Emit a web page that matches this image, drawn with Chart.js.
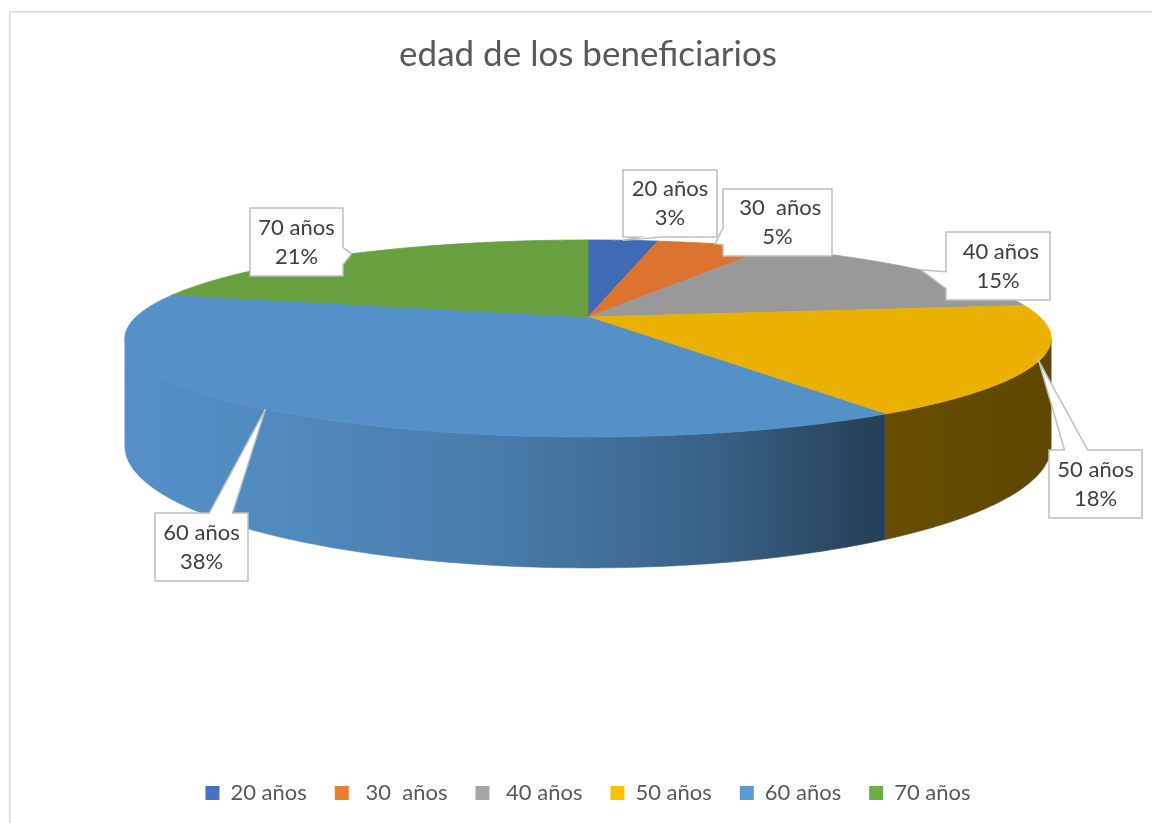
<!DOCTYPE html>
<html>
<head>
<meta charset="utf-8">
<script src="https://cdn.jsdelivr.net/npm/chart.js@4.4.0/dist/chart.umd.min.js"></script>
<style>
  html, body { margin: 0; padding: 0; background: #ffffff; }
  #wrap { position: relative; width: 1152px; height: 823px; }
</style>
</head>
<body>
<div id="wrap"><canvas id="chart"></canvas></div>
<script>
// ---------------- data ----------------
const chartTitle = 'edad de los beneficiarios';
const categories = ['20 años', ' 30  años', ' 40 años', '50 años', '60 años', '70 años'];
const shares = [3, 5, 15, 18, 38, 21];

// ---------------- styles ----------------
const legendColors = ['#4472C4', '#ED7D31', '#A5A5A5', '#FFC000', '#5B9BD5', '#70AD47'];
const faceColors   = ['#3E6AB6', '#DC7430', '#999999', '#EBB100', '#5491C8', '#68A040'];
const FONT = 'Lato, "Open Sans", "Noto Sans", sans-serif';

// 3D view (ratios relative to the pie radius computed by Chart.js)
const VIEW = { stretchX: 1.8755, stretchY: 0.3892, depth: 0.4250, perspective: 0.218 };
// side-wall lighting: [position across pie width, brightness factor]
const WALL_SHADE = [[0, 1.0], [0.2, 0.94], [0.42, 0.84], [0.63, 0.68], [0.81, 0.44], [1, 0.40]];
// callout boxes (layout only)
const CALLOUT_BOXES = [
  { x: 623, y: 170, w: 94, h: 67 },
  { x: 723, y: 189, w: 109, h: 67 },
  { x: 946, y: 232, w: 104, h: 68 },
  { x: 1049, y: 450, w: 93, h: 68 },
  { x: 155, y: 513, w: 93, h: 68 },
  { x: 250, y: 208, w: 93, h: 68 }
];

// ---------------- 3D helpers ----------------
function project(cx, cy, r, ang, drop) {
  const s = Math.sin(ang), c = Math.cos(ang);
  const den = 1 - VIEW.perspective * s;
  return { x: cx + r * VIEW.stretchX * c / den, y: cy + (r * VIEW.stretchY * s + drop) / den };
}
function hexToRgb(h) {
  const v = parseInt(h.replace('#', ''), 16);
  return [(v >> 16) & 255, (v >> 8) & 255, v & 255];
}
function shade(rgb, f) {
  return 'rgb(' + rgb.map(c => Math.round(Math.min(255, c * f))).join(',') + ')';
}

function drawWalls(ctx, arcs) {
  const vis0 = Math.asin(VIEW.perspective), vis1 = Math.PI - vis0;
  arcs.forEach(el => {
    const p = el.getProps(['x', 'y', 'startAngle', 'endAngle', 'outerRadius']);
    const color = el.options.backgroundColor;
    const rgb = hexToRgb(color);
    const half = p.outerRadius * VIEW.stretchX / Math.sqrt(1 - VIEW.perspective * VIEW.perspective);
    const drop = p.outerRadius * VIEW.depth;
    [-2 * Math.PI, 0, 2 * Math.PI].forEach(shift => {
      const a0 = Math.max(p.startAngle + shift, vis0);
      const a1 = Math.min(p.endAngle + shift, vis1);
      if (a1 <= a0) return;
      const n = Math.max(2, Math.ceil((a1 - a0) / 0.01));
      ctx.save();
      ctx.beginPath();
      for (let i = 0; i <= n; i++) {
        const q = project(p.x, p.y, p.outerRadius, a0 + (a1 - a0) * i / n, 0);
        if (i === 0) ctx.moveTo(q.x, q.y); else ctx.lineTo(q.x, q.y);
      }
      for (let i = n; i >= 0; i--) {
        const q = project(p.x, p.y, p.outerRadius, a0 + (a1 - a0) * i / n, drop);
        ctx.lineTo(q.x, q.y);
      }
      ctx.closePath();
      const g = ctx.createLinearGradient(p.x - half, 0, p.x + half, 0);
      WALL_SHADE.forEach(([pos, f]) => g.addColorStop(pos, shade(rgb, f)));
      ctx.fillStyle = g;
      ctx.fill();
      ctx.strokeStyle = g;
      ctx.lineWidth = 0.6;
      ctx.stroke();
      ctx.restore();
    });
  });
}

class Arc3D extends Chart.ArcElement {
  static id = 'arc3d';
  draw(ctx) {
    const p = this.getProps(['x', 'y', 'startAngle', 'endAngle', 'outerRadius']);
    const o = this.options;
    const n = Math.max(2, Math.ceil((p.endAngle - p.startAngle) / 0.01));
    ctx.save();
    ctx.beginPath();
    ctx.moveTo(p.x, p.y);
    for (let i = 0; i <= n; i++) {
      const q = project(p.x, p.y, p.outerRadius, p.startAngle + (p.endAngle - p.startAngle) * i / n, 0);
      ctx.lineTo(q.x, q.y);
    }
    ctx.closePath();
    ctx.fillStyle = o.backgroundColor;
    ctx.fill();
    ctx.strokeStyle = o.backgroundColor;
    ctx.lineWidth = 0.8;
    ctx.lineJoin = 'round';
    ctx.stroke();
    ctx.restore();
  }
}

class Pie3DController extends Chart.PieController {
  static id = 'pie3d';
  static defaults = { dataElementType: 'arc3d' };
  draw() {
    drawWalls(this.chart.ctx, this._cachedMeta.data);
    super.draw();
  }
}
Chart.register(Arc3D, Pie3DController);

function calloutPath(ctx, b, tip) {
  const { x, y, w, h } = b;
  const cx = x + w / 2, cy = y + h / 2;
  const dx = tip.x - cx, dy = tip.y - cy;
  const inside = tip.x >= x && tip.x <= x + w && tip.y >= y && tip.y <= y + h;
  const vert = Math.abs(dy) > Math.abs(dx * h / w);
  const xa = x + w * (dx > 0 ? 7 : 2) / 12, xb = x + w * (dx > 0 ? 10 : 5) / 12;
  const ya = y + h * (dy > 0 ? 7 : 2) / 12, yb = y + h * (dy > 0 ? 10 : 5) / 12;
  ctx.beginPath();
  ctx.moveTo(x, y);
  if (!inside && vert && dy < 0) { ctx.lineTo(xa, y); ctx.lineTo(tip.x, tip.y); ctx.lineTo(xb, y); }
  ctx.lineTo(x + w, y);
  if (!inside && !vert && dx > 0) { ctx.lineTo(x + w, ya); ctx.lineTo(tip.x, tip.y); ctx.lineTo(x + w, yb); }
  ctx.lineTo(x + w, y + h);
  if (!inside && vert && dy > 0) { ctx.lineTo(xb, y + h); ctx.lineTo(tip.x, tip.y); ctx.lineTo(xa, y + h); }
  ctx.lineTo(x, y + h);
  if (!inside && !vert && dx < 0) { ctx.lineTo(x, yb); ctx.lineTo(tip.x, tip.y); ctx.lineTo(x, ya); }
  ctx.closePath();
}

const calloutPlugin = {
  id: 'callouts',
  afterDatasetsDraw(chart) {
    const ctx = chart.ctx;
    const meta = chart.getDatasetMeta(0);
    const values = chart.data.datasets[0].data;
    const total = values.reduce((a, b) => a + b, 0);
    meta.data.forEach((el, i) => {
      const p = el.getProps(['x', 'y', 'startAngle', 'endAngle', 'outerRadius']);
      const tip = project(p.x, p.y, p.outerRadius, (p.startAngle + p.endAngle) / 2, 0);
      const b = CALLOUT_BOXES[i];
      ctx.save();
      calloutPath(ctx, b, tip);
      ctx.fillStyle = '#ffffff';
      ctx.fill();
      ctx.strokeStyle = '#BFBFBF';
      ctx.lineWidth = 1.5;
      ctx.lineJoin = 'miter';
      ctx.stroke();
      ctx.fillStyle = '#404040';
      ctx.font = '22px ' + FONT;
      ctx.textAlign = 'center';
      ctx.textBaseline = 'middle';
      const cx = b.x + b.w / 2, cy = b.y + b.h / 2;
      ctx.fillText(chart.data.labels[i], cx, cy - 14.5);
      ctx.fillText(Math.round(values[i] / total * 100) + '%', cx, cy + 14.5);
      ctx.restore();
    });
  }
};

const framePlugin = {
  id: 'frame',
  beforeDraw(chart) {
    const ctx = chart.ctx;
    ctx.save();
    ctx.strokeStyle = '#D9D9D9';
    ctx.lineWidth = 1.5;
    ctx.beginPath();
    ctx.moveTo(9.75, 823);
    ctx.lineTo(9.75, 11.75);
    ctx.lineTo(1152, 11.75);
    ctx.stroke();
    ctx.restore();
  }
};

new Chart(document.getElementById('chart'), {
  type: 'pie3d',
  data: {
    labels: categories,
    datasets: [{
      data: shares,
      backgroundColor: faceColors,
      borderWidth: 0,
      clip: false
    }]
  },
  options: {
    responsive: true,
    maintainAspectRatio: false,
    animation: false,
    events: [],
    layout: { padding: { left: 24, right: 0, top: 0, bottom: 9 } },
    plugins: {
      tooltip: { enabled: false },
      title: {
        display: true,
        text: chartTitle,
        color: '#595959',
        font: { family: FONT, size: 35, weight: 'normal' },
        padding: { top: 34, bottom: 0 }
      },
      legend: {
        display: true,
        position: 'bottom',
        title: { display: true, text: ' ', font: { size: 10 }, padding: { top: 184, bottom: 0 } },
        labels: {
          color: '#595959',
          font: { family: FONT, size: 22 },
          boxWidth: 14,
          boxHeight: 14,
          padding: 28,
          generateLabels(chart) {
            return chart.data.labels.map((label, i) => ({
              text: label,
              fillStyle: legendColors[i],
              strokeStyle: legendColors[i],
              lineWidth: 0,
              fontColor: '#595959',
              hidden: false,
              index: i
            }));
          }
        }
      }
    }
  },
  plugins: [framePlugin, calloutPlugin]
});
</script>
</body>
</html>
